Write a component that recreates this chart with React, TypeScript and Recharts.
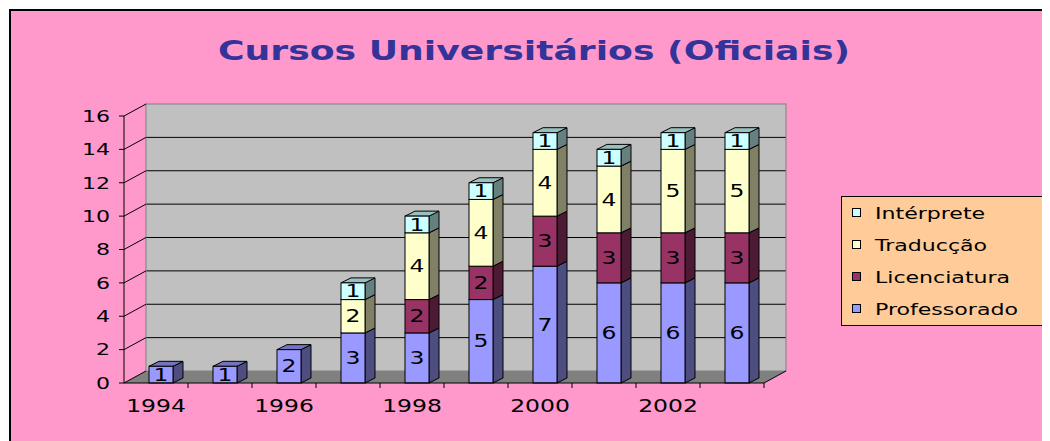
import {
  BarChart,
  Bar,
  XAxis,
  YAxis,
  CartesianGrid,
  Legend,
  LabelList,
  Customized,
} from "recharts";

const years = ["1994", "1995", "1996", "1997", "1998", "1999", "2000", "2001", "2002", "2003"];
const professorado = [1, 1, 2, 3, 3, 5, 7, 6, 6, 6];
const licenciatura = [0, 0, 0, 0, 2, 2, 3, 3, 3, 3];
const traduccao = [0, 0, 0, 2, 4, 4, 4, 4, 5, 5];
const interprete = [0, 0, 0, 1, 1, 1, 1, 1, 1, 1];
const yTicks = [0, 2, 4, 6, 8, 10, 12, 14, 16];
const xLabelYears = ["1994", "1996", "1998", "2000", "2002"];

const chartData = years.map((year, i) => ({
  year,
  professorado: professorado[i],
  licenciatura: licenciatura[i],
  traduccao: traduccao[i],
  interprete: interprete[i],
}));

// series style: front / side / top face
const SERIES = [
  { key: "professorado", name: "Professorado", front: "#9999FF", side: "#4D4D80", top: "#7373BF" },
  { key: "licenciatura", name: "Licenciatura", front: "#993366", side: "#4D1A33", top: "#732650" },
  { key: "traduccao", name: "Traducção", front: "#FFFFCC", side: "#808066", top: "#BFBF99" },
  { key: "interprete", name: "Intérprete", front: "#CCFFFF", side: "#668080", top: "#99BFBF" },
];

const W = 1037;
const H = 430;
const PLOT_L = 113;
const PLOT_T = 105;
const PLOT_W = 640;
const PLOT_H = 267;
const Y_W = 60;
const X_H = 40;
const DX = 22; // wall depth
const DY = 12;
const BDX = 10; // bar depth
const BDY = 5;
const BAR_SHIFT = 5;
const BAND = PLOT_W / years.length;
const S = 1.38; // horizontal stretch of text
const FONT = '"DejaVu Sans", Verdana, sans-serif';

const make3DBar = (front: string, side: string, top: string) => (props: any) => {
  const { x, y, width, height } = props;
  if (!height || height <= 0) return <g />;
  const x0 = x + BAR_SHIFT;
  const x1 = x0 + width;
  const y0 = y;
  const y1 = y + height;
  return (
    <g stroke="#000" strokeWidth={1}>
      <polygon
        points={`${x1},${y0} ${x1 + BDX},${y0 - BDY} ${x1 + BDX},${y1 - BDY} ${x1},${y1}`}
        fill={side}
      />
      <polygon
        points={`${x0},${y0} ${x0 + BDX},${y0 - BDY} ${x1 + BDX},${y0 - BDY} ${x1},${y0}`}
        fill={top}
      />
      <rect x={x0} y={y0} width={width} height={height} fill={front} />
    </g>
  );
};

const SegLabel = (props: any) => {
  const { x, y, width, height, value } = props;
  if (!value) return null;
  const cx = x + BAR_SHIFT + width / 2;
  const cy = y + height / 2;
  return (
    <text
      transform={`translate(${cx},${cy}) scale(${S},1)`}
      textAnchor="middle"
      dy="0.36em"
      fontSize={17}
      fontFamily={FONT}
      fill="#000"
    >
      {value}
    </text>
  );
};

const YTick = (props: any) => {
  const { x, y, payload } = props;
  const axisX = x + 14;
  return (
    <g>
      <line x1={axisX} y1={y} x2={axisX + DX} y2={y - DY} stroke="#000" />
      <text
        transform={`translate(${x},${y}) scale(${S},1)`}
        textAnchor="end"
        dy="0.36em"
        fontSize={16}
        fontFamily={FONT}
        fill="#000"
      >
        {payload.value}
      </text>
    </g>
  );
};

const XTick = (props: any) => {
  const { x, y, payload } = props;
  const show = xLabelYears.includes(payload.value);
  return (
    <g>
      <line x1={x + BAND / 2} y1={y} x2={x + BAND / 2} y2={y + 5} stroke="#000" />
      {show && (
        <text
          transform={`translate(${x},${y + 29}) scale(${S},1)`}
          textAnchor="middle"
          fontSize={17}
          fontFamily={FONT}
          fill="#000"
        >
          {payload.value}
        </text>
      )}
    </g>
  );
};

const Backdrop = () => {
  const bottom = PLOT_T + PLOT_H;
  const right = PLOT_L + PLOT_W;
  return (
    <g>
      <rect x={PLOT_L + DX} y={PLOT_T - DY} width={PLOT_W} height={PLOT_H} fill="none" stroke="#808080" />
      <polygon
        points={`${PLOT_L},${bottom} ${right},${bottom} ${right + DX},${bottom - DY} ${PLOT_L + DX},${bottom - DY}`}
        fill="#808080"
      />
      <line x1={right} y1={bottom} x2={right + DX} y2={bottom - DY} stroke="#000" />
      <text
        x={523}
        y={49}
        textAnchor="middle"
        textLength={632}
        lengthAdjust="spacingAndGlyphs"
        fontSize={27}
        fontWeight="bold"
        fontFamily={FONT}
        fill="#333399"
      >
        Cursos Universitários (Oficiais)
      </text>
    </g>
  );
};

// legend lists the series top-down, in reverse stacking order
const LegendBox = () => {
  const items = SERIES.slice().reverse();
  const rows = [17, 49, 81, 113];
  return (
    <svg width={204} height={130} style={{ display: "block" }}>
      <rect x={0.5} y={0.5} width={203} height={129} fill="#FFCC99" stroke="#000" />
      {items.map((it, i) => (
        <g key={it.key}>
          <rect x={11.5} y={rows[i] - 4.5} width={8} height={8} fill={it.front} stroke="#000" />
          <text
            transform={`translate(34,${rows[i]}) scale(${S},1)`}
            dy="0.36em"
            fontSize={16}
            fontFamily={FONT}
            fill="#000"
          >
            {it.name}
          </text>
        </g>
      ))}
    </svg>
  );
};

const App: React.FC = () => {
  return (
    <div
      style={{
        marginLeft: 1,
        marginTop: 1,
        borderTop: "2px solid #000",
        borderLeft: "2px solid #000",
        background: "#FF99CC",
        width: W,
        height: H,
        position: "relative",
      }}
    >
      <BarChart
        width={W}
        height={H}
        data={chartData}
        margin={{
          top: PLOT_T,
          left: PLOT_L - Y_W,
          right: W - PLOT_L - PLOT_W,
          bottom: H - PLOT_T - PLOT_H - X_H,
        }}
        barSize={24}
      >
        <CartesianGrid
          x={PLOT_L + DX}
          y={PLOT_T - DY}
          width={PLOT_W}
          height={PLOT_H}
          fill="#C0C0C0"
          fillOpacity={1}
          vertical={false}
          stroke="#000"
          strokeDasharray=""
          horizontalCoordinatesGenerator={(args: any) => {
            const yAxis = args && args.yAxis;
            if (yAxis && typeof yAxis.scale === "function") {
              return yTicks.slice(1, -1).map((t) => yAxis.scale(t) - DY);
            }
            return yTicks.slice(1, -1).map((t) => PLOT_T + PLOT_H * (1 - t / 16) - DY);
          }}
        />
        <Customized component={Backdrop} />
        <XAxis
          dataKey="year"
          height={X_H}
          interval={0}
          tickLine={false}
          tickSize={0}
          tickMargin={0}
          axisLine={{ stroke: "#000" }}
          tick={<XTick />}
        />
        <YAxis
          width={Y_W}
          domain={[0, 16]}
          ticks={yTicks}
          interval={0}
          tickSize={5}
          tickMargin={9}
          axisLine={{ stroke: "#000" }}
          tickLine={{ stroke: "#000" }}
          tick={<YTick />}
        />
        <Legend
          layout="horizontal"
          align="center"
          verticalAlign="middle"
          wrapperStyle={{ left: 830, top: 185, width: 204, height: 130 }}
          content={<LegendBox />}
        />
        {SERIES.map((s) => (
          <Bar
            key={s.key}
            dataKey={s.key}
            name={s.name}
            stackId="a"
            fill={s.front}
            isAnimationActive={false}
            shape={make3DBar(s.front, s.side, s.top)}
          >
            <LabelList dataKey={s.key} content={<SegLabel />} />
          </Bar>
        ))}
      </BarChart>
    </div>
  );
};

export default App;
